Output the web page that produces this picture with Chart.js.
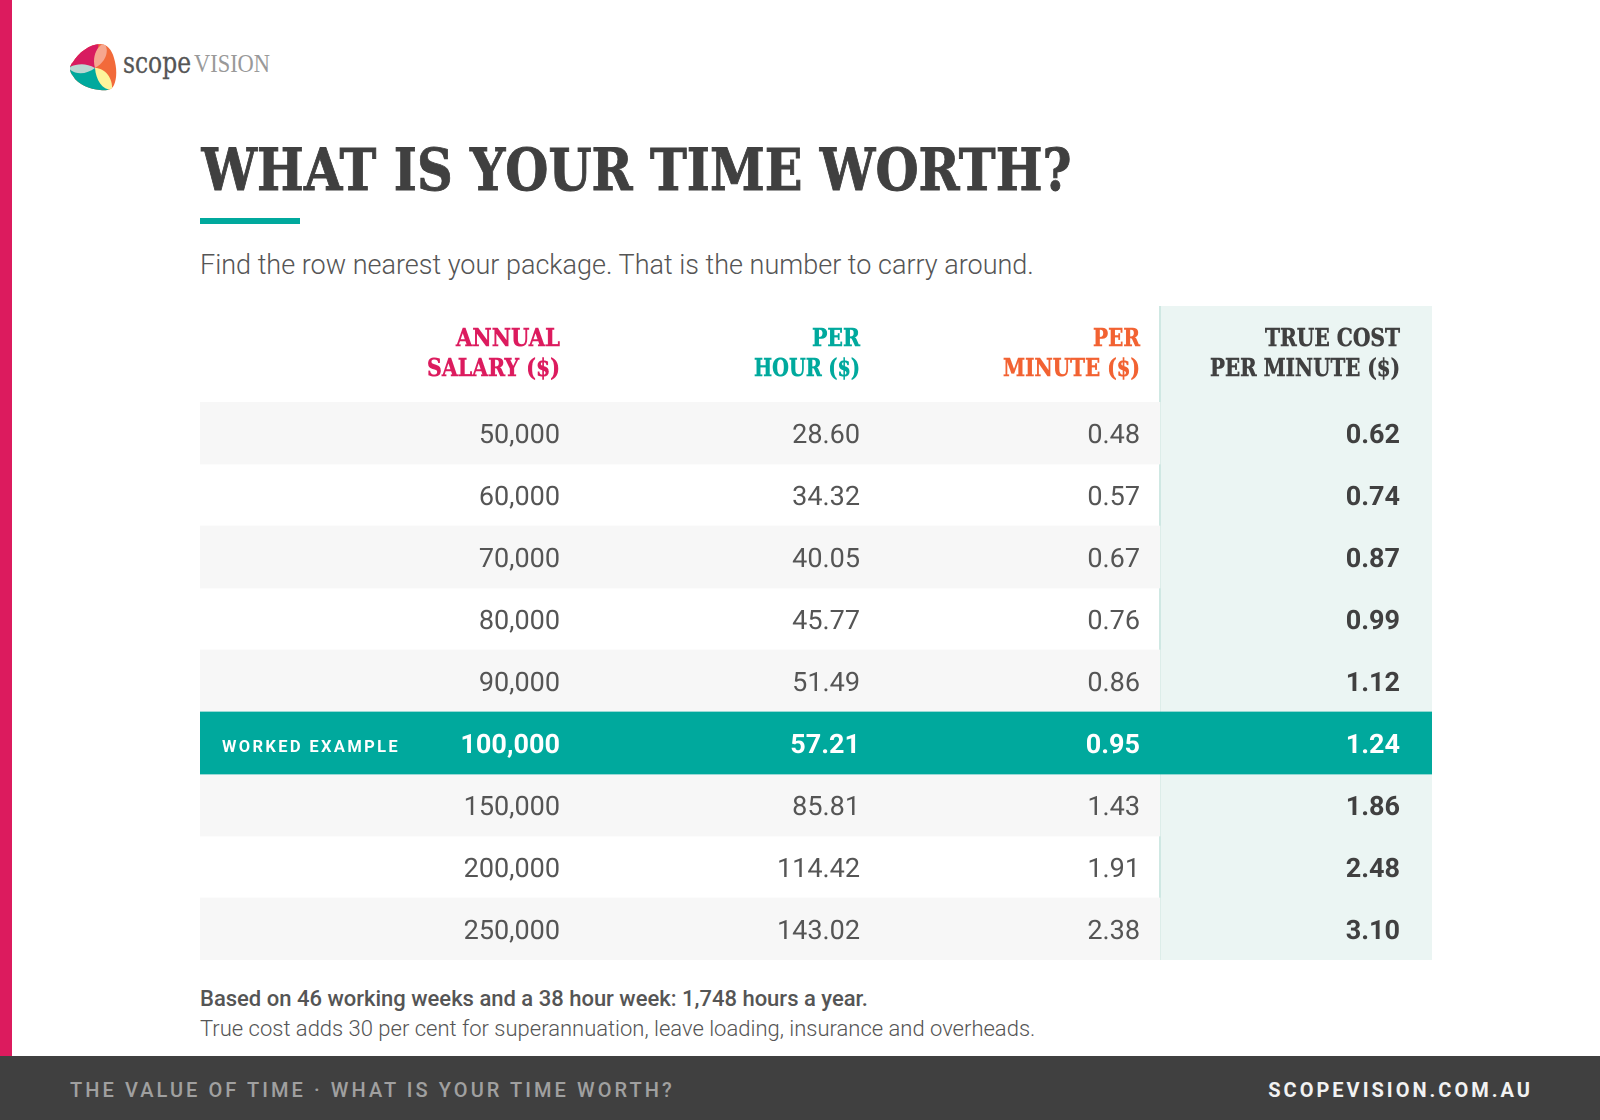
<!DOCTYPE html>
<html><head><meta charset="utf-8">
<script src="https://cdn.jsdelivr.net/npm/chart.js@4"></script>
<style>
html,body{margin:0;padding:0;background:#fff;width:1600px;height:1120px;overflow:hidden;font-family:Roboto,sans-serif}
.abs{position:absolute;white-space:nowrap}
#side{left:0;top:0;width:12px;height:1056px;background:#dc1b5e}
#foot{left:0;top:1056px;width:1600px;height:64px;background:#404040}
#rule{left:200px;top:218px;width:100px;height:6px;background:#00a99d}
#sub{left:200px;top:249px;font:300 27px/32px Roboto;color:#555}
#n1{left:200px;top:986px;font:500 22px/26px Roboto;color:#555}
#n2{left:200px;top:1016px;font:300 22px/26px Roboto;color:#555}
#f1{left:70px;top:1077.5px;font:500 20px/24px Roboto;color:#a0a0a0;letter-spacing:3.07px}
#f2{right:67px;top:1077.5px;font:700 20px/24px Roboto;color:#f2f2f2;letter-spacing:3px}
#chartbox{left:200px;top:306px;width:1232px;height:654px}
svg{position:absolute;left:0;top:0}
</style></head><body>
<div class="abs" id="side"></div>
<svg width="1600" height="240">
 <defs><clipPath id="lg"><path d="M100 44C107 44 112 50 114 58C117 68 117 78 114 85C112 90 106 91 100 90C90 89 78 85 73 76C69 71 69 66 73 62C78 53 90 44 100 44Z"/></clipPath></defs>
 <g clip-path="url(#lg)">
  <rect x="66" y="40" width="54" height="54" fill="#f26a3a"/>
  <path d="M95 68L60 68L60 35L100 35Z" fill="#d81b60"/>
  <path d="M95 68C92 58 96 47 104 43C110 50 106 62 95 68Z" fill="#f6a78f"/>
  <path d="M95 68L62 66L62 95L112 95Z" fill="#00a99d"/>
  <path d="M95 68C85 62 75 64 68 68C76 76 87 74 95 68Z" fill="#bad7d1"/>
  <path d="M95 68C105 68 113 78 112 90C102 90 96 80 95 68Z" fill="#fdf39b"/>
 </g>
 <text x="123" y="73" font-family="DejaVu Serif" font-size="29" fill="#555" stroke="#555" stroke-width="0.3" textLength="68" lengthAdjust="spacingAndGlyphs">scope</text>
 <text x="194" y="72" font-family="Liberation Serif" font-size="25" fill="#999" textLength="76" lengthAdjust="spacingAndGlyphs">VISION</text>
 <text x="201.5" y="190" font-family="'Roboto Slab','DejaVu Serif'" font-weight="700" font-size="58" fill="#404040" stroke="#404040" stroke-width="0.9" textLength="870" lengthAdjust="spacingAndGlyphs">WHAT IS YOUR TIME WORTH?</text>
</svg>
<div class="abs" id="rule"></div>
<div class="abs" id="sub">Find the row nearest your package. That is the number to carry around.</div>
<div class="abs" id="chartbox"><canvas id="c" width="1232" height="654"></canvas></div>
<div class="abs" id="n1">Based on 46 working weeks and a 38 hour week: 1,748 hours a year.</div>
<div class="abs" id="n2">True cost adds 30 per cent for superannuation, leave loading, insurance and overheads.</div>
<div class="abs" id="foot"></div>
<div class="abs" id="f1">THE VALUE OF TIME · WHAT IS YOUR TIME WORTH?</div>
<div class="abs" id="f2">SCOPEVISION.COM.AU</div>
<script>
const annualSalary=[50000,60000,70000,80000,90000,100000,150000,200000,250000];
const perHour=[28.60,34.32,40.05,45.77,51.49,57.21,85.81,114.42,143.02];
const perMinute=[0.48,0.57,0.67,0.76,0.86,0.95,1.43,1.91,2.38];
const trueCost=[0.62,0.74,0.87,0.99,1.12,1.24,1.86,2.48,3.10];
const rowLabels=annualSalary.map(v=>v.toLocaleString('en-AU'));
const headerSalary=['ANNUAL','SALARY ($)'];
const headerHour=['PER','HOUR ($)'];
const headerMinute=['PER','MINUTE ($)'];
const headerTrue=['TRUE COST','PER MINUTE ($)'];
const highlightRow=5;
const highlightLabel='WORKED EXAMPLE';

const TEAL='#00a99d',PANEL='#ebf5f3',ZEBRA='#f7f7f7',INK='#555555',DARK='#404040',PANELEDGE='#cfe8e3';
const XMAX=1232,PANELX=960,C=[360,660,940,1200];
const columns=[
 {vals:annualSalary,fmt:v=>v.toLocaleString('en-AU'),head:headerSalary,color:'#dc1b5e',fit:[104,133]},
 {vals:perHour,fmt:v=>v.toFixed(2),head:headerHour,color:TEAL,fit:[48,106]},
 {vals:perMinute,fmt:v=>v.toFixed(2),head:headerMinute,color:'#f26232',fit:[47,137]},
 {vals:trueCost,fmt:v=>v.toFixed(2),head:headerTrue,color:DARK,strong:true,fit:[135,190]}
];
function slabText(ctx,txt,xr,y,target){
 const f=target/ctx.measureText(txt).width;
 ctx.save();ctx.translate(xr,y);ctx.scale(f,1);ctx.textAlign='right';
 ctx.lineWidth=0.5;ctx.strokeStyle=ctx.fillStyle;ctx.strokeText(txt,0,0);ctx.fillText(txt,0,0);ctx.restore();
}
const tablePlugin={id:'table',
 beforeDatasetsDraw(ch){
  const {ctx,scales:{x}}=ch;
  ctx.save();ctx.fillStyle=PANEL;
  ctx.fillRect(x.getPixelForValue(PANELX),0,x.getPixelForValue(XMAX)-x.getPixelForValue(PANELX),ch.height);
  ctx.fillStyle=PANELEDGE;ctx.fillRect(x.getPixelForValue(PANELX)-1,0,2,ch.height);
  ctx.restore();
 },
 afterDatasetsDraw(ch){
  const {ctx,scales:{x,y}}=ch;
  ctx.save();ctx.textBaseline='alphabetic';
  columns.forEach((col,ci)=>{
   const xr=x.getPixelForValue(C[ci]);
   ctx.textAlign='right';ctx.fillStyle=col.color;ctx.font="700 24px 'Roboto Slab','DejaVu Serif'";
   col.head.forEach((t,li)=>slabText(ctx,t,xr,40+li*30,col.fit[li]));
   col.vals.forEach((v,i)=>{
    const py=y.getPixelForValue(i);
    const hi=i===highlightRow;
    ctx.textAlign='right';
    ctx.font=(hi||col.strong?'700':'400')+' 27px Roboto';
    ctx.fillStyle=hi?'#ffffff':(col.strong?DARK:INK);
    ctx.fillText(col.fmt(v),xr,py+10);
   });
  });
  const py=y.getPixelForValue(highlightRow);
  ctx.textAlign='left';ctx.font='700 16.5px Roboto';ctx.fillStyle='#fff';ctx.letterSpacing='2.35px';
  ctx.fillText(highlightLabel,22,py+9);
  ctx.restore();
 }
};
new Chart(document.getElementById('c'),{
 type:'bar',
 data:{labels:rowLabels,datasets:[
  {label:'Worked example',
   data:rowLabels.map((_,i)=>i===highlightRow?[0,XMAX]:null),
   backgroundColor:TEAL,borderWidth:0,barPercentage:1,categoryPercentage:1,grouped:false,order:0},
  {label:'Row bands',
   data:rowLabels.map((_,i)=>i===highlightRow?null:[0,PANELX]),
   backgroundColor:rowLabels.map((_,i)=>i%2===0?ZEBRA:'rgba(255,255,255,0)'),
   borderWidth:0,barPercentage:1,categoryPercentage:1,grouped:false,order:1}
 ]},
 options:{
  indexAxis:'y',responsive:false,animation:false,devicePixelRatio:2,
  layout:{padding:{top:96,left:0,right:0,bottom:0}},
  plugins:{legend:{display:false},tooltip:{enabled:false},title:{display:false}},
  scales:{
   x:{type:'linear',min:0,max:XMAX,display:false},
   y:{type:'category',display:false,grid:{display:false}}
  }
 },
 plugins:[tablePlugin]
});
</script>
</body></html>
